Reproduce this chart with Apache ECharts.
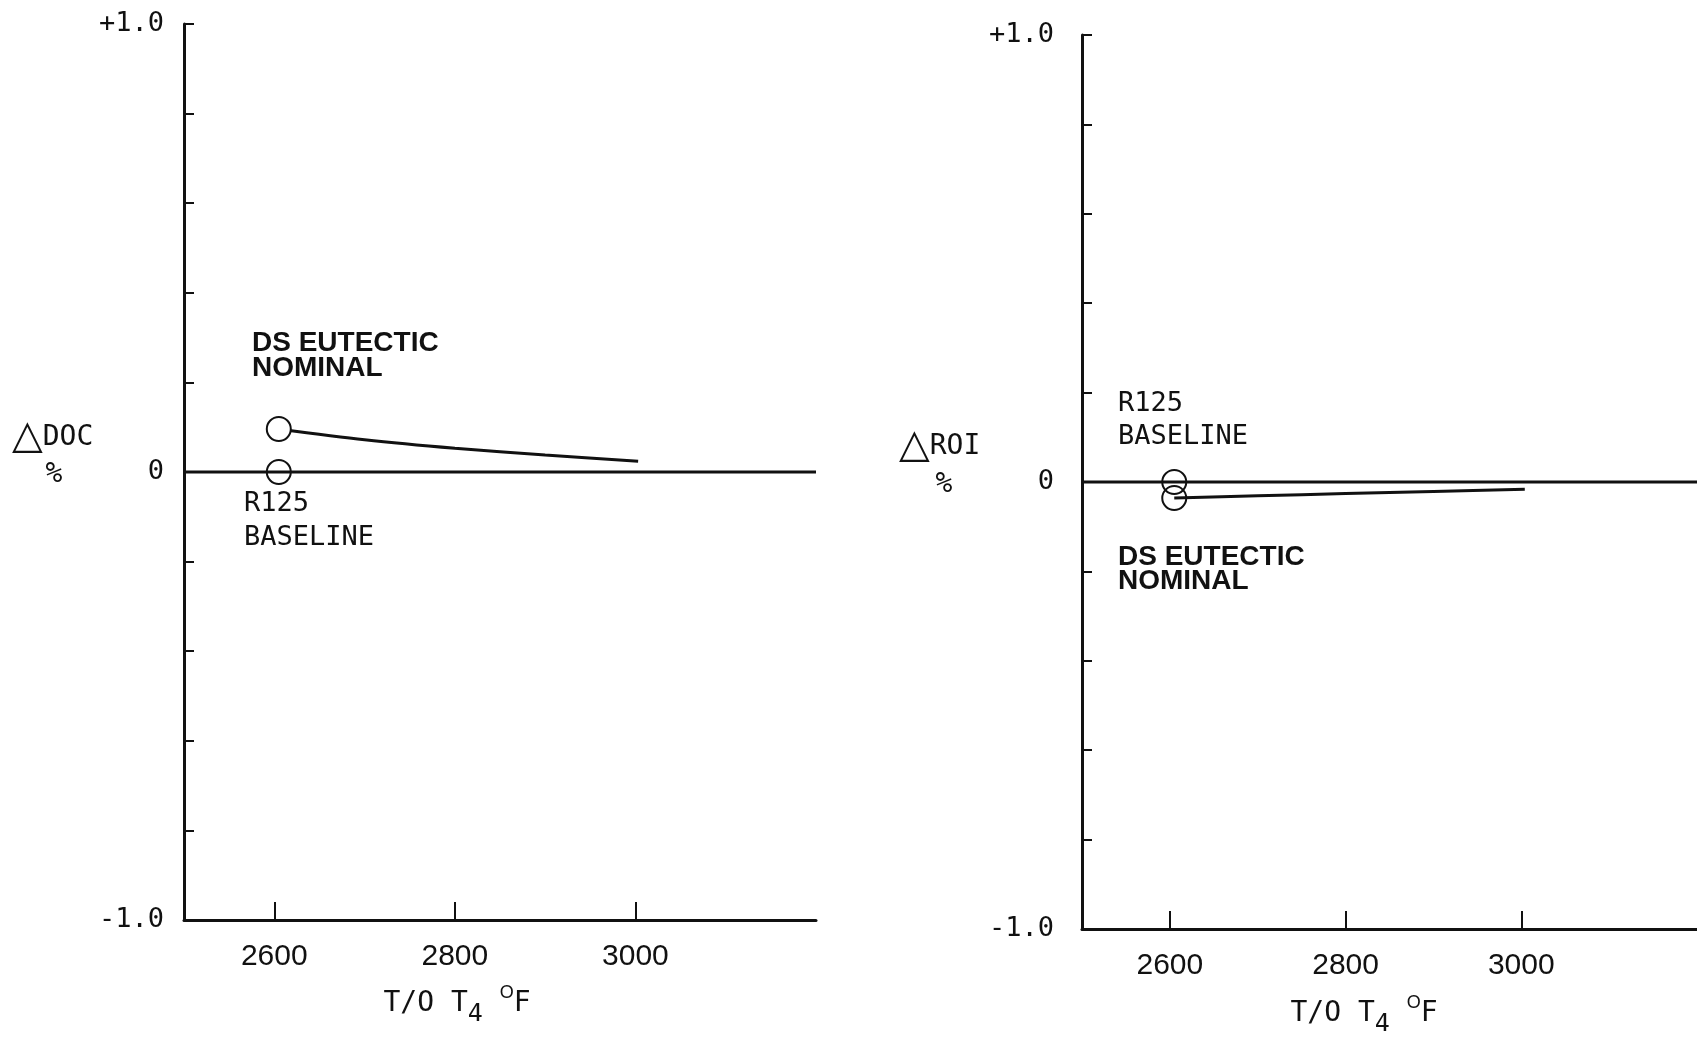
<!DOCTYPE html>
<html>
<head>
<meta charset="utf-8">
<script src="https://cdn.jsdelivr.net/npm/echarts@6/dist/echarts.min.js"></script>
<style>
html,body{margin:0;padding:0;background:#fff;}
#chart{width:1697px;height:1041px;}
</style>
</head>
<body>
<div id="chart"></div>
<script>
// ---- data ----
const xMin = 2500, xMax = 3200;
const xTickValues = [2600, 2800, 3000];
const yTickValues = [-1.0, -0.8, -0.6, -0.4, -0.2, 0, 0.2, 0.4, 0.6, 0.8, 1.0];
const yLabelValues = [-1.0, 0, 1.0];
const yLabelTexts = ['-1.0', '0', '+1.0'];

// Left panel: delta DOC %
const docBaselineX = [2500, 2605, 3200];
const docBaselineY = [0, 0, 0];
const docEutecticX = [2605, 2700, 2800, 2900, 3003];
const docEutecticY = [0.096, 0.072, 0.053, 0.038, 0.024];

// Right panel: delta ROI %
const roiBaselineX = [2500, 2605, 3200];
const roiBaselineY = [0, 0, 0];
const roiEutecticX = [2605, 2700, 2800, 2900, 3004];
const roiEutecticY = [-0.036, -0.031, -0.026, -0.021, -0.016];

const markerAt = [2605, 2605];

// ---- chart ----
const INK = '#111';
const MONO = '"DejaVu Sans Mono", monospace';
const SANS = '"Liberation Sans", Arial, sans-serif';

function pts(xs, ys, mark) {
  return xs.map((x, i) => ({
    value: [x, ys[i]],
    symbol: x === mark ? 'circle' : 'none'
  }));
}

function xAxisFor(i) {
  return {
    gridIndex: i, type: 'value', min: xMin, max: xMax,
    axisLine: { onZero: false, lineStyle: { color: INK, width: 3 } },
    axisTick: { inside: true, length: 18, customValues: xTickValues, lineStyle: { color: INK, width: 2 } },
    axisLabel: { customValues: xTickValues, margin: 22, fontFamily: SANS, fontSize: 30, color: INK,
      formatter: v => String(v) },
    splitLine: { show: false }
  };
}
function yAxisFor(i, margin) {
  return {
    gridIndex: i, type: 'value', min: -1, max: 1,
    axisLine: { onZero: false, lineStyle: { color: INK, width: 3 } },
    axisTick: { inside: true, length: 10, customValues: yTickValues, lineStyle: { color: INK, width: 2 } },
    axisLabel: {
      customValues: yLabelValues, margin: margin, fontFamily: MONO, fontSize: 27, color: INK,
      formatter: v => { const k = yLabelValues.findIndex(t => Math.abs(t - v) < 1e-9); return k < 0 ? '' : yLabelTexts[k]; }
    },
    splitLine: { show: false }
  };
}
function lineSeries(i, xs, ys, mark, fill, z) {
  return {
    type: 'line', xAxisIndex: i, yAxisIndex: i, smooth: 0.3, z: z,
    data: pts(xs, ys, mark),
    symbolSize: 24,
    lineStyle: { color: INK, width: 3 },
    itemStyle: { color: fill, borderColor: INK, borderWidth: 2 },
    emphasis: { disabled: true }
  };
}

const nameRich = {
  t: { fontFamily: 'DejaVu Sans', fontSize: 40, fill: INK },
  m: { fontFamily: MONO, fontSize: 28, fill: INK }
};
const axisNameRich = {
  a: { fontFamily: MONO, fontSize: 28, fill: INK },
  s: { fontFamily: MONO, fontSize: 25, fill: INK, padding: [20, 0, 0, 0] },
  p: { fontFamily: SANS, fontSize: 18, fill: INK, padding: [0, 0, 22, 0] }
};
function txt(x, y, text, font, extra) {
  return Object.assign({ type: 'text', x: x, y: y, silent: true,
    style: Object.assign({ text: text, fill: INK, font: font, align: 'left', verticalAlign: 'middle' }, extra || {}) });
}

const option = {
  animation: false,
  backgroundColor: '#fff',
  grid: [
    { left: 184, top: 24, width: 632, height: 896 },
    { left: 1082, top: 35, width: 627, height: 894 }
  ],
  xAxis: [xAxisFor(0), xAxisFor(1)],
  yAxis: [yAxisFor(0, 20), yAxisFor(1, 28)],
  series: [
    lineSeries(0, docBaselineX, docBaselineY, markerAt[0], 'rgba(0,0,0,0)', 2),
    lineSeries(0, docEutecticX, docEutecticY, markerAt[0], '#fff', 3),
    lineSeries(1, roiBaselineX, roiBaselineY, markerAt[1], 'rgba(0,0,0,0)', 2),
    lineSeries(1, roiEutecticX, roiEutecticY, markerAt[1], 'rgba(0,0,0,0)', 3)
  ],
  graphic: [
    // y-axis titles
    txt(12, 438, '{t|△}{m|DOC}', null, { rich: nameRich }),
    txt(54, 475, '%', '28px ' + MONO, { align: 'center' }),
    txt(899, 447, '{t|△}{m|ROI}', null, { rich: nameRich }),
    txt(944, 485, '%', '28px ' + MONO, { align: 'center' }),
    // x-axis titles
    txt(457, 1004, '{a|T/O T}{s|4}{a| }{p|O}{a|F}', null, { rich: axisNameRich, align: 'center' }),
    txt(1364, 1014, '{a|T/O T}{s|4}{a| }{p|O}{a|F}', null, { rich: axisNameRich, align: 'center' }),
    // annotations
    txt(252, 343, 'DS EUTECTIC', 'bold 28px ' + SANS),
    txt(252, 368, 'NOMINAL', 'bold 28px ' + SANS),
    txt(244, 504, 'R125', '27px ' + MONO),
    txt(244, 538, 'BASELINE', '27px ' + MONO),
    txt(1118, 404, 'R125', '27px ' + MONO),
    txt(1118, 437, 'BASELINE', '27px ' + MONO),
    txt(1118, 557, 'DS EUTECTIC', 'bold 28px ' + SANS),
    txt(1118, 581, 'NOMINAL', 'bold 28px ' + SANS)
  ]
};

const chart = echarts.init(document.getElementById('chart'), null, { renderer: 'canvas' });
chart.setOption(option);
</script>
</body>
</html>
